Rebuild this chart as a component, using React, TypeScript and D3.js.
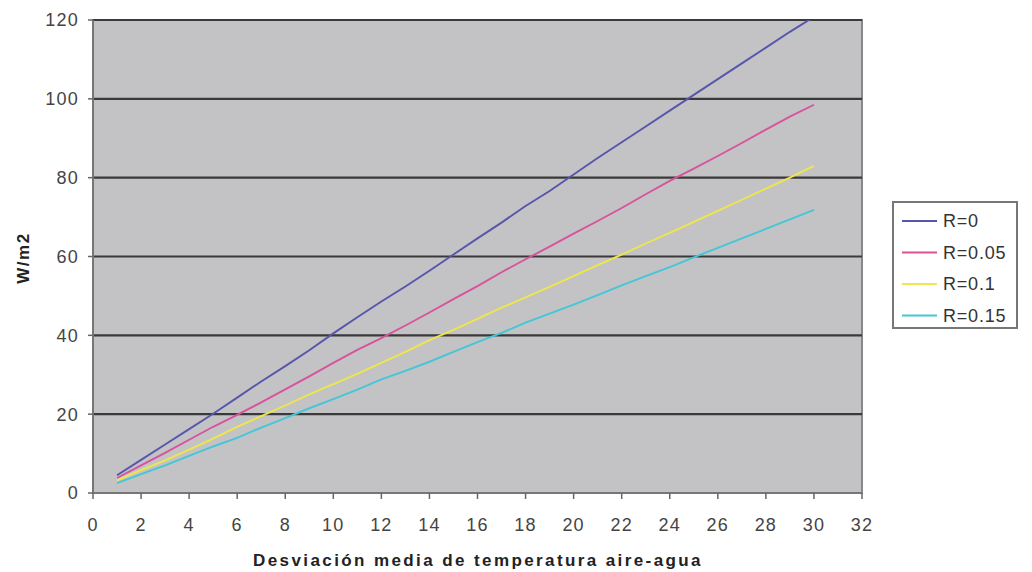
import React from "react";
import * as d3 from "d3";

const xValues = [1,2,3,4,5,6,7,8,9,10,11,12,13,14,15,16,17,18,19,20,21,22,23,24,25,26,27,28,29,30];
const r0 = [4.5,8.4,12.3,16.2,20.1,24.2,28.3,32.2,36.2,40.5,44.6,48.6,52.4,56.4,60.5,64.6,68.6,72.8,76.6,80.8,85,89,93,97,101,105,109,113,117,120.8];
const r005 = [3.8,7.0,10.2,13.5,16.8,19.8,23.0,26.3,29.6,33,36.3,39.3,42.5,45.8,49.2,52.5,56,59.3,62.5,65.8,69,72.3,75.8,79.2,82.3,85.5,88.8,92.2,95.5,98.5];
const r01 = [3.2,5.8,8.3,11.0,13.8,16.8,19.5,22.2,25,27.6,30.2,33,35.8,38.8,41.4,44.2,47,49.6,52.3,55,57.8,60.5,63.3,66,68.8,71.6,74.4,77.2,80,83];
const r015 = [2.5,4.8,7.0,9.4,11.8,14.0,16.6,19.0,21.5,23.8,26.2,28.8,31.0,33.3,35.8,38.3,40.6,43.2,45.5,47.8,50.2,52.7,55,57.3,59.8,62.2,64.6,67,69.4,71.8];
const seriesNames = ["R=0", "R=0.05", "R=0.1", "R=0.15"];
const seriesColors = ["#5656ac", "#d8529e", "#eee64a", "#44c6d8"];
const xTicks = [0,2,4,6,8,10,12,14,16,18,20,22,24,26,28,30,32];
const yTicks = [0,20,40,60,80,100,120];

export default function App() {
  const W = 1032, H = 572;
  const left = 93, right = 862, top = 20, bottom = 493;
  const x = d3.scaleLinear().domain([0, 32]).range([left, right]);
  const y = d3.scaleLinear().domain([0, 120]).range([bottom, top]);
  const all = [r0, r005, r01, r015];
  const line = d3.line<number>().x((_, i) => x(xValues[i])).y((d) => y(d));
  const font = "'Liberation Sans', Arial, sans-serif";
  return (
    <svg width={W} height={H} style={{ position: "absolute", left: 0, top: 0 }} fontFamily={font}>
      <defs>
        <clipPath id="plotclip">
          <rect x={left} y={top} width={right - left} height={bottom - top} />
        </clipPath>
      </defs>
      <rect x={0} y={0} width={W} height={H} fill="#fff" />
      <rect x={left} y={top} width={right - left} height={bottom - top} fill="#c3c3c5" stroke="#888" strokeWidth={2} />
      {yTicks.filter((t) => t > 0).map((t) => (
        <line key={t} x1={left} x2={right} y1={y(t)} y2={y(t)} stroke="#3a3a3a" strokeWidth={2.2} />
      ))}
      <g clipPath="url(#plotclip)">
        {all.map((s, i) => (
          <path key={i} d={line(s) || ""} fill="none" stroke={seriesColors[i]} strokeWidth={1.9} />
        ))}
      </g>
      <line x1={left} x2={left} y1={top} y2={bottom} stroke="#777" strokeWidth={2} />
      <line x1={left} x2={right} y1={bottom} y2={bottom} stroke="#777" strokeWidth={2} />
      {yTicks.map((t) => (
        <g key={t}>
          <line x1={left - 5} x2={left} y1={y(t)} y2={y(t)} stroke="#666" strokeWidth={1.5} />
          <text x={left - 14} y={y(t)} dy="0.36em" textAnchor="end" fontSize={18} letterSpacing={1.2} fill="#444">{t}</text>
        </g>
      ))}
      {xTicks.map((t) => (
        <g key={t}>
          <line x1={x(t)} x2={x(t)} y1={bottom} y2={bottom + 6} stroke="#666" strokeWidth={1.5} />
          <text x={x(t)} y={bottom + 38} textAnchor="middle" fontSize={18} letterSpacing={1.2} fill="#444">{t}</text>
        </g>
      ))}
      <text x={478} y={566} textAnchor="middle" fontSize={17} fontWeight="bold" fill="#222" letterSpacing={2.4}>Desviación media de temperatura aire-agua</text>
      <text transform="translate(29,258) rotate(-90)" textAnchor="middle" fontSize={17} fontWeight="bold" fill="#222" letterSpacing={1.5}>W/m2</text>
      <rect x={893} y={202} width={124} height={126} fill="#fff" stroke="#777" strokeWidth={2} />
      {seriesNames.map((n, i) => {
        const ly = 221 + i * 31.5;
        return (
          <g key={n}>
            <line x1={902} x2={937} y1={ly} y2={ly} stroke={seriesColors[i]} strokeWidth={2.2} />
            <text x={943} y={ly} dy="0.36em" fontSize={18} letterSpacing={0.8} fill="#333">{n}</text>
          </g>
        );
      })}
    </svg>
  );
}
